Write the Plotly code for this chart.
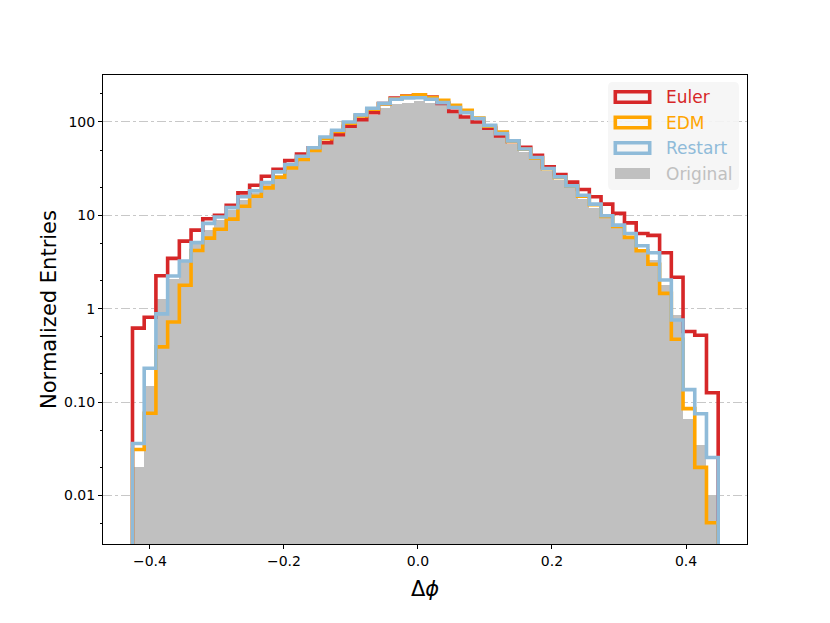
import numpy as np
import plotly.graph_objects as go

# histogram binning (50 bins)
bin_start = -0.426
bin_width = 0.01748
n_bins = 50

euler = [0.62, 0.81, 2.25, 3.46, 5.3, 6.95, 9.2, 10.0, 12.8, 17.4,
         21.0, 26.2, 31.2, 38.6, 45.2, 53.0, 60.0, 73.0, 90.0, 106.0,
         126.0, 157.0, 180.0, 190.0, 195.0, 185.0, 158.0, 130.0, 113.0, 100.0,
         86.0, 71.0, 62.0, 53.6, 44.0, 33.0, 27.4, 22.7, 18.9, 15.8,
         13.2, 10.5, 8.3, 6.4, 6.1, 3.97, 2.17, 0.57, 0.52, 0.126]

edm = [0.031, 0.076, 0.39, 0.72, 1.78, 4.2, 5.7, 7.1, 9.1, 12.5,
       16.0, 19.7, 25.6, 32.2, 39.6, 49.4, 66.0, 79.0, 97.0, 116.0,
       137.0, 156.0, 176.0, 188.0, 196.0, 183.0, 171.0, 151.0, 133.0, 110.0,
       90.0, 78.0, 62.0, 51.0, 41.0, 31.5, 25.5, 20.5, 16.0, 13.0,
       9.7, 7.6, 5.8, 4.17, 2.99, 1.46, 0.47, 0.085, 0.020, 0.0051]

restart = [0.036, 0.23, 0.88, 2.24, 3.24, 5.1, 8.2, 9.6, 12.1, 15.8,
           18.3, 22.5, 29.2, 35.0, 43.0, 53.0, 69.0, 81.5, 100.0, 119.0,
           140.0, 158.0, 175.0, 181.0, 182.0, 175.0, 161.0, 143.0, 126.0, 109.0,
           92.0, 75.0, 62.7, 51.4, 41.6, 31.7, 25.8, 20.7, 16.4, 13.2,
           9.9, 7.85, 6.4, 4.72, 3.97, 2.03, 0.757, 0.136, 0.075, 0.0255]

original = [0.020, 0.147, 1.26, 2.1, 3.2, 4.9, 7.0, 9.0, 11.5, 14.5,
            17.5, 21.5, 27.0, 33.0, 40.0, 49.0, 62.0, 75.0, 91.0, 108.0,
            118.0, 141.0, 157.0, 161.0, 169.0, 161.0, 151.0, 126.0, 109.0, 100.0,
            86.0, 70.0, 58.0, 48.0, 39.0, 30.0, 24.0, 19.5, 15.0, 12.0,
            9.3, 7.3, 5.9, 4.4, 3.3, 1.8, 0.85, 0.066, 0.035, 0.0102]

series = [("Euler", euler, "#d62728"),
          ("EDM", edm, "#ffa500"),
          ("Restart", restart, "#8fbbd9")]
original_color = "#c0c0c0"

y_ticks = [0.01, 0.1, 1, 10, 100]
y_ticktext = ["0.01", "0.10", "1", "10", "100"]
x_ticks = [-0.4, -0.2, 0.0, 0.2, 0.4]

edges = bin_start + bin_width * np.arange(n_bins + 1)
centers = (edges[:-1] + edges[1:]) / 2
floor = 1e-4


def step_xy(vals):
    x = [edges[0]] + list(edges) + [edges[-1]]
    y = [floor] + list(vals) + [vals[-1], floor]
    return x, y


fig = go.Figure()

fig.add_trace(go.Bar(
    x=centers, y=original, width=bin_width,
    marker=dict(color=original_color, line=dict(width=0)),
    name="Original", showlegend=False, hoverinfo="skip"
))

for name, vals, color in series:
    sx, sy = step_xy(vals)
    fig.add_trace(go.Scatter(
        x=sx, y=sy, mode="lines", line=dict(color=color, width=3.6, shape="hv"),
        name=name, showlegend=False
    ))

# plot area in pixels
L, R, T, B = 103, 747, 75, 544


def px(xp):
    return (xp - L) / (R - L)


def py(yp):
    return (B - yp) / (B - T)


shapes = []
# legend background with rounded corners
x0, x1, y0, y1, r = 608, 739, 82, 190, 5
path = (f"M {px(x0 + r)},{py(y0)} L {px(x1 - r)},{py(y0)} "
        f"Q {px(x1)},{py(y0)} {px(x1)},{py(y0 + r)} "
        f"L {px(x1)},{py(y1 - r)} Q {px(x1)},{py(y1)} {px(x1 - r)},{py(y1)} "
        f"L {px(x0 + r)},{py(y1)} Q {px(x0)},{py(y1)} {px(x0)},{py(y1 - r)} "
        f"L {px(x0)},{py(y0 + r)} Q {px(x0)},{py(y0)} {px(x0 + r)},{py(y0)} Z")
shapes.append(dict(type="path", xref="paper", yref="paper", path=path,
                   fillcolor="rgba(245,245,245,0.9)", line=dict(width=0), layer="above"))

annotations = []
row_y = [97, 122.5, 148, 173.5]
for (name, vals, color), yc in zip(series, row_y[:3]):
    shapes.append(dict(type="rect", xref="paper", yref="paper",
                       x0=px(615.3), x1=px(649.7), y0=py(yc - 5.2), y1=py(yc + 5.2),
                       line=dict(color=color, width=3.6), fillcolor="rgba(0,0,0,0)",
                       layer="above"))
    annotations.append(dict(xref="paper", yref="paper", x=px(664), y=py(yc),
                            text=name, showarrow=False, xanchor="left", yanchor="middle",
                            font=dict(size=17, color=color, family="DejaVu Sans")))
shapes.append(dict(type="rect", xref="paper", yref="paper",
                   x0=px(615), x1=px(650), y0=py(row_y[3] - 5.5), y1=py(row_y[3] + 5.5),
                   line=dict(width=0), fillcolor=original_color, layer="above"))
annotations.append(dict(xref="paper", yref="paper", x=px(664), y=py(row_y[3]),
                        text="Original", showarrow=False, xanchor="left", yanchor="middle",
                        font=dict(size=17, color=original_color, family="DejaVu Sans")))

fig.update_layout(
    width=830, height=623,
    margin=dict(l=L, r=830 - R, t=T, b=623 - B),
    paper_bgcolor="white", plot_bgcolor="white",
    bargap=0,
    font=dict(family="DejaVu Sans", size=14, color="black"),
    shapes=shapes, annotations=annotations,
    showlegend=False,
)

fig.update_xaxes(
    range=[-0.470, 0.491], tickvals=x_ticks, tickformat=".1f",
    ticks="outside", ticklen=4, tickcolor="black",
    showline=True, linecolor="black", linewidth=1, mirror=True,
    showgrid=False, zeroline=False, automargin=False,
    title=dict(text="Δ<i>ϕ</i>", font=dict(size=21), standoff=13),
)

fig.update_yaxes(
    type="log", range=[-2.52, 2.503],
    tickvals=y_ticks, ticktext=y_ticktext,
    ticks="outside", ticklen=4, tickcolor="black",
    showline=True, linecolor="black", linewidth=1, mirror=True,
    showgrid=True, gridcolor="#c8c8c8", gridwidth=1, griddash="dashdot",
    minor=dict(ticks="outside", ticklen=2, tickcolor="black", showgrid=False),
    zeroline=False, automargin=False,
    title=dict(text="Normalized Entries", font=dict(size=21), standoff=1),
)

fig.write_html("out.html", config={"displayModeBar": False},
               post_script="document.body.style.margin='0px';")
